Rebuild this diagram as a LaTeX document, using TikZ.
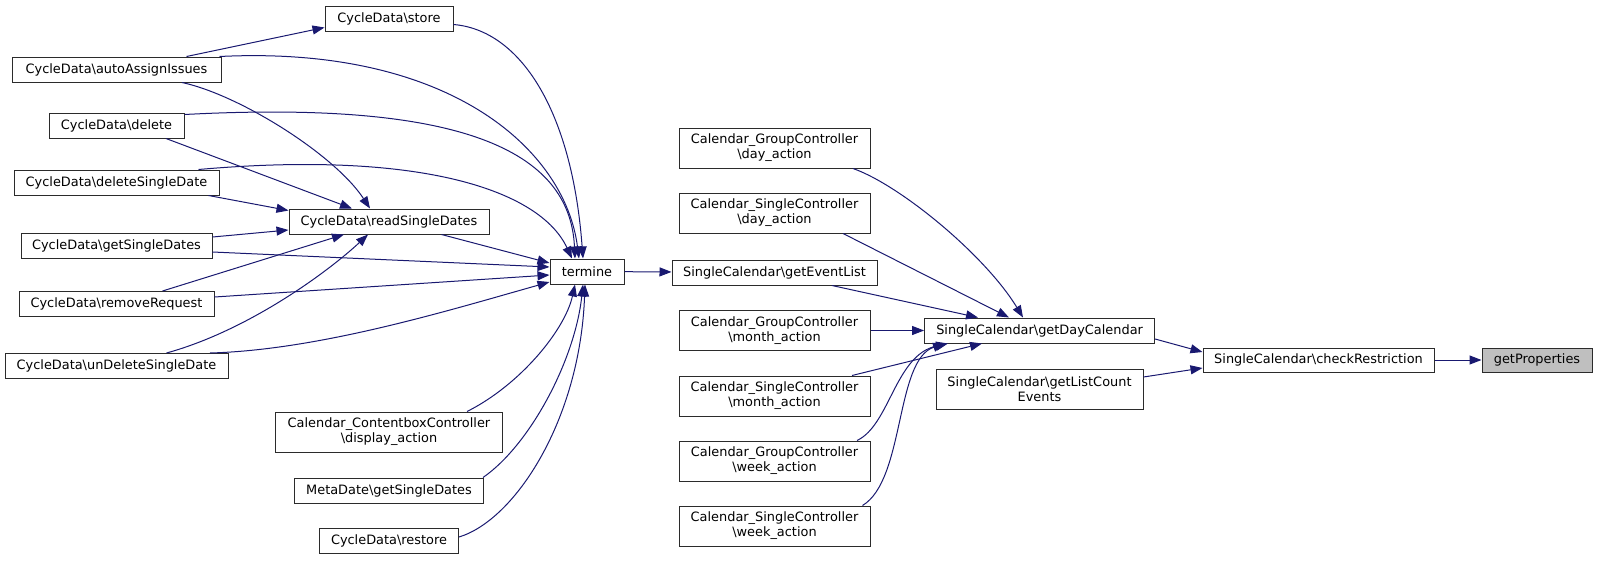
\documentclass[tikz,border=0pt]{standalone}
\usepackage{fontspec}
\setmainfont{DejaVu Sans}
\usepackage{tikz}
\usetikzlibrary{arrows.meta,positioning}
\definecolor{edgeblue}{HTML}{191970}
\definecolor{hlgray}{HTML}{BFBFBF}
\definecolor{boxline}{HTML}{2B2B2B}
\newcommand{\bsl}{\textbackslash}

\begin{document}
\begin{tikzpicture}[x=1pt,y=-1pt,
	fn/.style={draw=boxline,line width=1pt,fill=white,minimum height=25pt,inner sep=0pt,align=center,
		font=\fontsize{12.9}{15}\selectfont},
	fnhl/.style={fn,fill=hlgray},
	call/.style={draw=edgeblue,line width=1pt,-{Triangle[length=12pt,width=9pt]}}]
	\useasboundingbox (0,0) rectangle (1597,560);

	% callers on the left
	\foreach \nm/\y/\w/\txt in {aai/69.5/209/autoAssignIssues,del/125.5/135/delete,dsd/182.5/205/deleteSingleDate,
		gsd/246/191/getSingleDates,rr/304/195/removeRequest,uds/366/223/unDeleteSingleDate}
		\node[fn,minimum width=\w pt] (\nm) at (116.5,\y) {CycleData\bsl\txt};

	\node[fn,minimum width=128pt] (sto) at (389,18.5) {CycleData\bsl store};
	\node[fn,minimum width=200pt] (rsd) at (389,221.5) {CycleData\bsl readSingleDates};
	\node[fn,minimum width=227pt,minimum height=40pt] (dsp) at (389,432) {Calendar\_ContentboxController\\\bsl display\_action};
	\node[fn,minimum width=189pt] (mds) at (389,490.5) {MetaDate\bsl getSingleDates};
	\node[fn,minimum width=139pt] (rst) at (389,541) {CycleData\bsl restore};
	\node[fn,minimum width=74pt] (ter) at (587,271.5) {termine};

	% controllers
	\foreach \cls/\act/\y [count=\n] in {Group/day/148,Single/day/213,Group/month/330.5,Single/month/396,Group/week/461,Single/week/526}
		\node[fn,minimum width=191pt,minimum height=40pt] (C\n) at (774.5,\y) {Calendar\_\cls Controller\\\bsl\act\_action};
	\node[fn,minimum width=205pt] (gel) at (774.5,272.5) {SingleCalendar\bsl getEventList};

	\node[fn,minimum width=230pt] (gdc) at (1039.6,330.5) {SingleCalendar\bsl getDayCalendar};
	\node[fn,minimum width=207pt,minimum height=40pt] (glce) at (1039.5,389) {SingleCalendar\bsl getListCount\\Events};
	\node[fn,minimum width=231pt,minimum height=24pt] (chk) at (1318.5,360) {SingleCalendar\bsl checkRestriction};
	\node[fnhl,minimum width=110pt,minimum height=24pt] (prop) at (1537,360) {getProperties};

	% edges into store and readSingleDates
	\draw[call] ([xshift=70pt]aai.north) -- ([yshift=-9pt]sto.west);
	\draw[call] (aai.south) ++(65.5,0) .. controls (240,95) and (335,155) .. ([xshift=-19pt]rsd.north);
	\draw[call] ([xshift=49.5pt]del.south) -- ([xshift=-37pt]rsd.north);
	\draw[call] ([xshift=-11pt]dsd.south east) -- ([yshift=-2pt]rsd.north west);
	\draw[call] ([yshift=-4pt]gsd.north east) -- ([yshift=-8.5pt]rsd.west);
	\draw[call] ([xshift=46pt]rr.north) -- ([xshift=-45pt]rsd.south);
	\draw[call] ([xshift=50pt]uds.north) .. controls (250,330) and (330,270) .. ([xshift=-21pt]rsd.south);

	% edges into termine
	\draw[call] ([yshift=-6pt]sto.east) .. controls (520,30) and (572,110) .. ([xshift=-4pt]ter.north);
	\draw[call] ([xshift=-2pt]aai.north east) .. controls (450,45) and (565,150) .. ([xshift=-8pt]ter.north);
	\draw[call] ([yshift=-2pt]del.north east) .. controls (460,100) and (570,150) .. ([xshift=-12pt]ter.north);
	\draw[call] ([xshift=-21pt]dsd.north east) .. controls (420,150) and (540,190) .. ([xshift=-15pt]ter.north);
	\draw[call] ([xshift=-48pt]rsd.south east) -- ([yshift=8.5pt]ter.west);
	\draw[call] ([yshift=-6pt]gsd.east) -- ([yshift=4.5pt]ter.west);
	\draw[call] ([yshift=7pt]rr.east) -- ([yshift=-3.5pt]ter.west);
	\draw[call] ([xshift=93.5pt]uds.north) .. controls (320,350) and (450,310) .. ([yshift=-10.5pt]ter.west);
	\draw[call] ([xshift=78pt]dsp.north) .. controls (520,385) and (565,330) .. ([xshift=-12pt]ter.south);
	\draw[call] ([xshift=-1pt]mds.north east) .. controls (530,445) and (575,360) .. ([xshift=-4pt]ter.south);
	\draw[call] ([yshift=4pt]rst.east) .. controls (515,520) and (580,420) .. ([xshift=-2pt]ter.south);

	\draw[call] (ter) -- (gel);

	% edges into getDayCalendar
	\draw[call] ([xshift=78.5pt]C1.south) .. controls (900,185) and (985,255) .. ([xshift=-16.6pt]gdc.north);
	\draw[call] ([xshift=68.5pt]C2.south) -- ([xshift=-30.6pt]gdc.north);
	\draw[call] ([xshift=57.5pt]gel.south) -- ([xshift=-61.6pt]gdc.north);
	\draw[call] (C3) -- (gdc);
	\draw[call] ([xshift=77.5pt]C4.north) -- ([xshift=-57.6pt]gdc.south);
	\draw[call] ([xshift=82.5pt]C5.north) .. controls (890,425) and (895,355) .. ([xshift=-91.6pt]gdc.south);
	\draw[call] ([xshift=88pt]C6.north) .. controls (905,480) and (895,360) .. ([xshift=-94.6pt]gdc.south);

	\draw[call] ([yshift=-8.5pt]gdc.east) -- ([yshift=8pt]chk.west);
	\draw[call] ([yshift=12pt]glce.east) -- ([yshift=-8pt]chk.west);
	\draw[call] (chk) -- (prop);
\end{tikzpicture}
\end{document}
